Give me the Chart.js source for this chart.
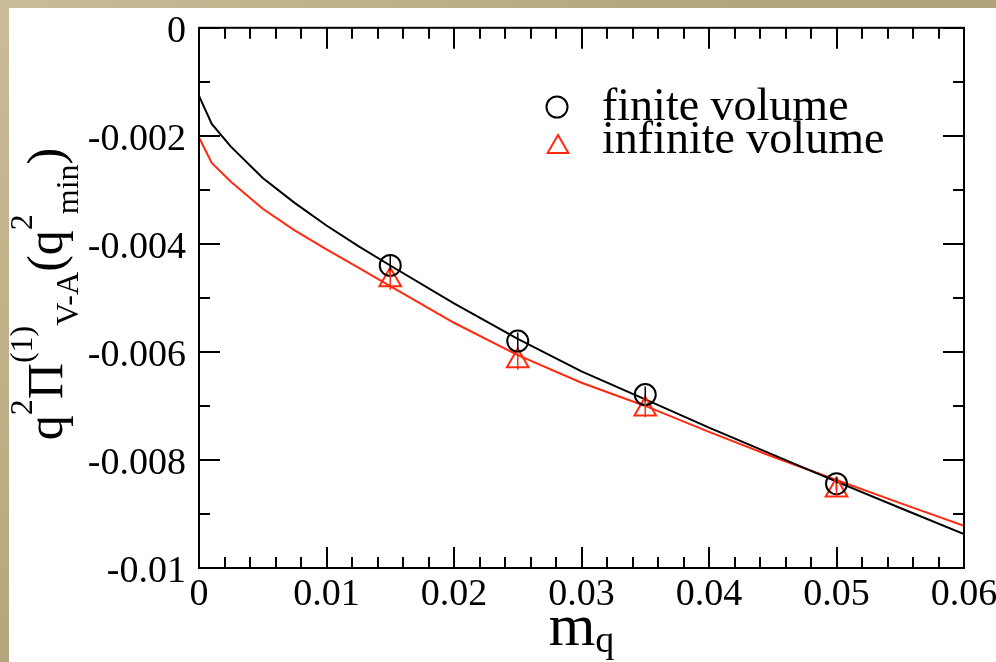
<!DOCTYPE html>
<html>
<head>
<meta charset="utf-8">
<script src="https://cdn.jsdelivr.net/npm/chart.js@4.4.1/dist/chart.umd.min.js"></script>
<style>
  html, body { margin: 0; padding: 0; }
  body {
    width: 996px; height: 662px; position: relative; overflow: hidden;
    background: linear-gradient(135deg, #c9bd98 0%, #b5a77d 40%, #a99b70 100%);
  }
  #paper { position: absolute; left: 9px; top: 8px; right: 0; bottom: 0; background: #fff; }
  #chart { position: absolute; left: 0; top: 0; }
</style>
</head>
<body>
<div id="paper"></div>
<canvas id="chart" width="996" height="662"></canvas>
<script>
// fitted curves (sampled along m_q)
const curveMq = [0, 0.001, 0.0025, 0.005, 0.0075, 0.01, 0.0125, 0.015, 0.02, 0.025, 0.03, 0.035, 0.04, 0.045, 0.05, 0.055, 0.06];
const finiteCurve = [-0.00126, -0.00178, -0.00220, -0.00278, -0.00324, -0.00366, -0.00404, -0.00440, -0.00510, -0.00576, -0.00636, -0.00688, -0.00740, -0.00790, -0.00840, -0.00889, -0.00937];
const infiniteCurve = [-0.00203, -0.00250, -0.00285, -0.00335, -0.00375, -0.00410, -0.00444, -0.00478, -0.00546, -0.00606, -0.00657, -0.00700, -0.00748, -0.00794, -0.00837, -0.00880, -0.00922];

// lattice points with errors
const pointMq = [0.015, 0.025, 0.035, 0.05];
const finiteValues = [-0.00440, -0.00580, -0.00679, -0.00844];
const finiteErrors = [0.00018, 0.00016, 0.00015, 0.00012];
const infiniteValues = [-0.00467, -0.00617, -0.00706, -0.00856];
const infiniteErrors = [0.00018, 0.00016, 0.00015, 0.00012];

const seriesNames = ['finite volume', 'infinite volume'];

// axes
const xTickValues = [0, 0.01, 0.02, 0.03, 0.04, 0.05, 0.06];
const xTickLabels = ['0', '0.01', '0.02', '0.03', '0.04', '0.05', '0.06'];
const yTickValues = [0, -0.002, -0.004, -0.006, -0.008, -0.01];
const yTickLabels = ['0', '-0.002', '-0.004', '-0.006', '-0.008', '-0.01'];

const RED = '#ff2a10';
const SERIF = '"Liberation Serif", "Times New Roman", serif';

function toXY(xs, ys) {
  return xs.map((x, i) => ({ x: x, y: ys[i] }));
}

// error bars, frame with inward ticks, axis titles and legend
const gracePlot = {
  id: 'gracePlot',
  afterDatasetsDraw(chart) {
    const ctx = chart.ctx;
    const yScale = chart.scales.y;
    chart.data.datasets.forEach((ds, i) => {
      if (!ds.errors) return;
      const meta = chart.getDatasetMeta(i);
      ctx.save();
      ctx.strokeStyle = ds.borderColor;
      ctx.lineWidth = 1.5;
      meta.data.forEach((el, j) => {
        const v = ds.data[j].y;
        ctx.beginPath();
        ctx.moveTo(el.x, yScale.getPixelForValue(v + ds.errors[j]));
        ctx.lineTo(el.x, yScale.getPixelForValue(v - ds.errors[j]));
        ctx.stroke();
      });
      ctx.restore();
    });
  },
  afterDraw(chart) {
    const ctx = chart.ctx;
    const a = chart.chartArea;
    const xs = chart.scales.x, ys = chart.scales.y;
    ctx.save();
    ctx.strokeStyle = '#000';
    ctx.lineWidth = 2;
    ctx.strokeRect(a.left, a.top, a.right - a.left, a.bottom - a.top);

    // x ticks: major every 0.01, minor every 0.002
    ctx.beginPath();
    for (let i = 0; i <= 30; i++) {
      const px = Math.round(xs.getPixelForValue(i * 0.002));
      const len = i % 5 === 0 ? 21 : 11;
      ctx.moveTo(px, a.bottom); ctx.lineTo(px, a.bottom - len);
      ctx.moveTo(px, a.top); ctx.lineTo(px, a.top + len);
    }
    // y ticks: major every 0.002, minor every 0.001
    for (let i = 0; i <= 10; i++) {
      const py = Math.round(ys.getPixelForValue(-i * 0.001));
      const len = i % 2 === 0 ? 21 : 11;
      ctx.moveTo(a.left, py); ctx.lineTo(a.left + len, py);
      ctx.moveTo(a.right, py); ctx.lineTo(a.right - len, py);
    }
    ctx.stroke();

    ctx.fillStyle = '#000';
    ctx.textBaseline = 'alphabetic';
    ctx.textAlign = 'left';

    // x title: m_q
    const xMain = '60px ' + SERIF, xSub = '38px ' + SERIF;
    ctx.font = xMain;
    const mW = ctx.measureText('m').width;
    ctx.font = xSub;
    const qW = ctx.measureText('q').width;
    let tx = (a.left + a.right) / 2 - (mW + qW) / 2;
    ctx.font = xMain;
    ctx.fillText('m', tx, 645);
    ctx.font = xSub;
    ctx.fillText('q', tx + mW, 652);

    // y title, rotated, built from pieces with super/subscripts
    const mainFont = '50px ' + SERIF;
    const scriptFont = '32px ' + SERIF;
    const pieces = [
      ['q', mainFont, 0], ['2', scriptFont, -30], ['\u03A0', mainFont, 0],
      ['(1)', scriptFont, -30], ['V-A', scriptFont, 16], ['(q', mainFont, 0],
      ['2', scriptFont, -30], ['min', scriptFont, 16], [')', mainFont, 0]
    ];
    let total = 0;
    pieces.forEach(p => { ctx.font = p[1]; total += ctx.measureText(p[0]).width; });
    ctx.save();
    ctx.translate(62, 294);
    ctx.rotate(-Math.PI / 2);
    let px = -total / 2;
    pieces.forEach(p => {
      ctx.font = p[1];
      ctx.fillText(p[0], px, p[2]);
      px += ctx.measureText(p[0]).width;
    });
    ctx.restore();

    // legend
    ctx.lineWidth = 2;
    ctx.strokeStyle = '#000';
    ctx.beginPath();
    ctx.arc(557, 107, 10.5, 0, Math.PI * 2);
    ctx.stroke();
    ctx.strokeStyle = RED;
    const r = 12;
    ctx.beginPath();
    ctx.moveTo(558, 147 - r);
    ctx.lineTo(558 + r * Math.sin(2 * Math.PI / 3), 147 + r / 2);
    ctx.lineTo(558 - r * Math.sin(2 * Math.PI / 3), 147 + r / 2);
    ctx.closePath();
    ctx.stroke();
    ctx.font = '46px ' + SERIF;
    ctx.fillText(seriesNames[0], 602, 120);
    ctx.fillText(seriesNames[1], 602, 153);
    ctx.restore();
  }
};

const ctx = document.getElementById('chart').getContext('2d');
new Chart(ctx, {
  type: 'scatter',
  data: {
    datasets: [
      {
        label: seriesNames[0], data: toXY(pointMq, finiteValues), errors: finiteErrors,
        pointStyle: 'circle', pointRadius: 10.5, pointBorderWidth: 2,
        borderColor: '#000', backgroundColor: 'rgba(0,0,0,0)', showLine: false, order: 1
      },
      {
        label: seriesNames[1], data: toXY(pointMq, infiniteValues), errors: infiniteErrors,
        pointStyle: 'triangle', pointRadius: 12.5, pointBorderWidth: 2,
        borderColor: RED, backgroundColor: 'rgba(0,0,0,0)', showLine: false, order: 2
      },
      {
        label: 'finite fit', data: toXY(curveMq, finiteCurve), showLine: true,
        borderColor: '#000', borderWidth: 2, pointRadius: 0, tension: 0, order: 3
      },
      {
        label: 'infinite fit', data: toXY(curveMq, infiniteCurve), showLine: true,
        borderColor: RED, borderWidth: 2, pointRadius: 0, tension: 0, order: 4
      }
    ]
  },
  options: {
    responsive: false,
    animation: false,
    devicePixelRatio: 1,
    layout: { padding: { top: 13, right: 32, left: 0, bottom: 0 } },
    plugins: { legend: { display: false }, tooltip: { enabled: false } },
    scales: {
      x: {
        type: 'linear', min: 0, max: 0.06,
        grid: { display: false }, border: { display: false },
        afterBuildTicks: s => { s.ticks = xTickValues.map(v => ({ value: v })); },
        afterFit: s => { s.height = 94; },
        ticks: {
          color: '#000', padding: -4, maxRotation: 0, autoSkip: false,
          font: { family: SERIF, size: 38 },
          callback: (v, i) => xTickLabels[i]
        }
      },
      y: {
        type: 'linear', min: -0.01, max: 0,
        grid: { display: false }, border: { display: false },
        afterBuildTicks: s => { s.ticks = yTickValues.map(v => ({ value: v })); },
        afterFit: s => { s.width = 199; },
        ticks: {
          color: '#000', padding: 5, labelOffset: 4, autoSkip: false,
          font: { family: SERIF, size: 38 },
          callback: (v, i) => yTickLabels[i]
        }
      }
    }
  },
  plugins: [gracePlot]
});
</script>
</body>
</html>
